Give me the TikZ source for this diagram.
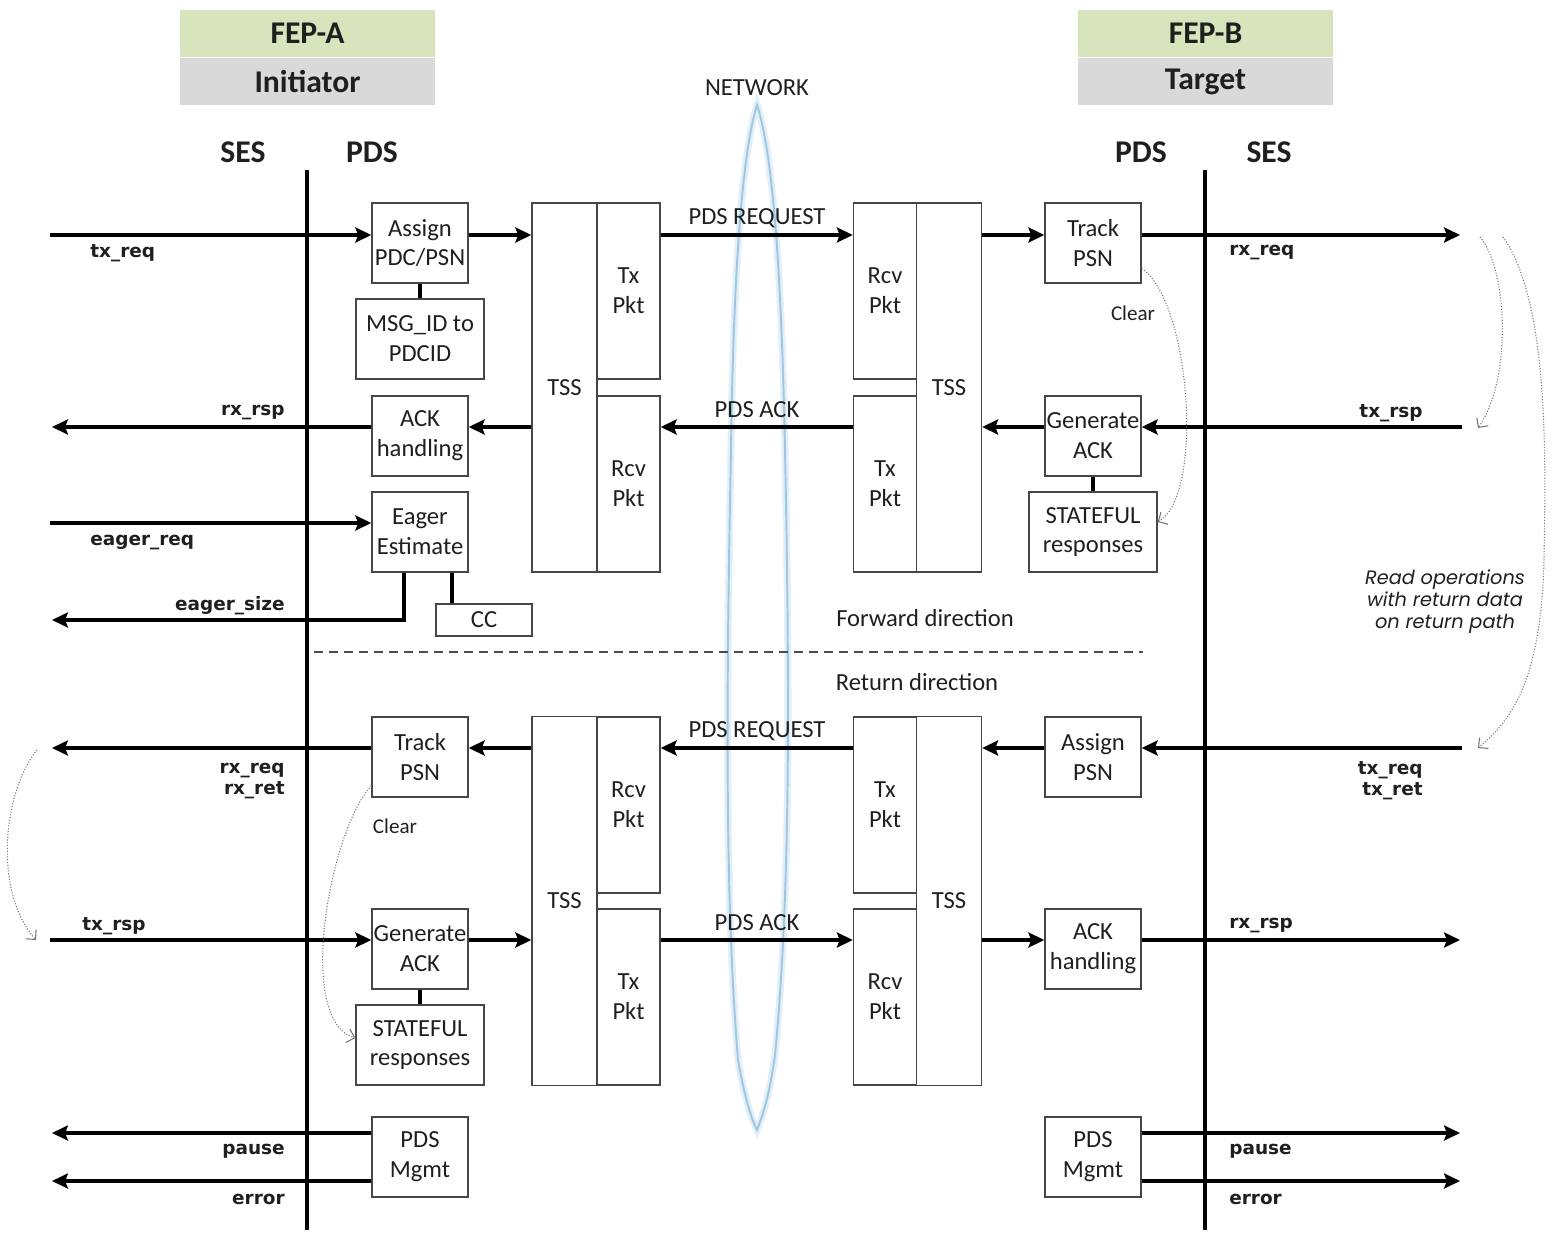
\documentclass[tikz,border=0pt]{standalone}
\usepackage{fontspec}
\usepackage{tikz}
\usetikzlibrary{arrows.meta,positioning}
\setmainfont{Carlito}
\newfontfamily\sigfont{DejaVu Sans}
\newfontfamily\notefont{Poppins}

\definecolor{fepgreen}{RGB}{216,228,188}
\definecolor{fepgray}{RGB}{217,217,217}
\definecolor{netblue}{RGB}{140,190,220}
\definecolor{boxline}{RGB}{70,70,70}

\begin{document}
\begin{tikzpicture}[x=0.02cm, y=-0.02cm,
	every node/.style={text=black!88},
	blk/.style={draw=boxline, line width=0.8pt, minimum width=1.92cm, minimum height=1.6cm,
		inner sep=0pt, align=center, font=\fontsize{14}{17}\selectfont},
	wideblk/.style={blk, minimum width=2.56cm},
	tss/.style={blk, minimum width=1.3cm, minimum height=7.38cm},
	pkt/.style={blk, minimum width=1.26cm, minimum height=3.52cm},
	hdr/.style={minimum width=5.1cm, minimum height=0.95cm, inner sep=0pt,
		font=\fontsize{18}{20}\selectfont\bfseries},
	col/.style={font=\fontsize{18}{20}\selectfont\bfseries},
	sig/.style={line width=1.9pt, -{Stealth[length=9pt,width=8.5pt,inset=1.5pt]}},
	link/.style={line width=1.9pt},
	bus/.style={line width=1.9pt},
	lbl/.style={inner sep=0pt, font=\sigfont\bfseries\fontsize{10.5}{12}\selectfont},
	msg/.style={inner sep=0pt, font=\fontsize{14}{17}\selectfont},
	clr/.style={inner sep=0pt, font=\fontsize{12}{14}\selectfont},
	hint/.style={densely dotted, black!55, line width=0.6pt, -{Straight Barb[length=4pt,width=8pt]}}]

\useasboundingbox (0,0) rectangle (1559,1247);

% headers
\node[hdr, fill=fepgreen] (fepA) at (307.5,33.5) {FEP-A};
\node[hdr, fill=fepgray, below=0pt of fepA] (roleA) {Initiator};
\node[hdr, fill=fepgreen] (fepB) at (1205.5,33.5) {FEP-B};
\node[hdr, fill=fepgray, below=0pt of fepB] (roleB) {Target};

\node[col] (sesA) at (243,152) {SES};
\node[col] (pdsA) at (372,152) {PDS};
\node[col] (pdsB) at (1141,152) {PDS};
\node[col] (sesB) at (1269,152) {SES};

\node[msg] (net) at (757,88) {NETWORK};

% network
\draw[netblue, line width=4pt, opacity=0.25]
	(757,105) .. controls (740,160) and (733,300) .. (731,450)
	.. controls (726,700) and (725,900) .. (738,1060)
	.. controls (745,1100) and (752,1120) .. (757,1130)
	.. controls (765,1110) and (770,1090) .. (775,1055)
	.. controls (790,900) and (790,700) .. (785,450)
	.. controls (782,300) and (775,160) .. (757,105) -- cycle;
\draw[netblue, line width=1.1pt, opacity=0.8]
	(757,105) .. controls (740,160) and (733,300) .. (731,450)
	.. controls (726,700) and (725,900) .. (738,1060)
	.. controls (745,1100) and (752,1120) .. (757,1130)
	.. controls (765,1110) and (770,1090) .. (775,1055)
	.. controls (790,900) and (790,700) .. (785,450)
	.. controls (782,300) and (775,160) .. (757,105) -- cycle;

% layer boundaries
\draw[bus] (307,170) -- (307,1230);
\draw[bus] (1205,170) -- (1205,1230);

% forward direction, initiator
\node[blk] (asgA) at (420,243) {Assign\\PDC/PSN};
\node[wideblk] (mapA) at (420,339) {MSG\_ID to\\PDCID};
\node[blk] (ackA) at (420,436) {ACK\\handling};
\node[blk] (eagA) at (420,532) {Eager\\Estimate};
\node[blk, minimum height=0.64cm] (ccA) at (484,620) {CC};
\node[tss] (tssA) at (564.5,387.5) {TSS};
\node[pkt] (txA) at (628.5,291) {Tx\\Pkt};
\node[pkt] (rxA) at (628.5,484) {Rcv\\Pkt};

% forward direction, target
\node[pkt] (rxB) at (885,291) {Rcv\\Pkt};
\node[pkt] (txB) at (885,484) {Tx\\Pkt};
\node[tss] (tssB) at (949,387.5) {TSS};
\node[blk] (trkB) at (1093,243) {Track\\PSN};
\node[blk] (genB) at (1093,436) {Generate\\ACK};
\node[wideblk] (stB) at (1093,532) {STATEFUL\\responses};

% return direction, initiator
\node[blk] (trkA) at (420,757) {Track\\PSN};
\node[blk] (genA) at (420,949) {Generate\\ACK};
\node[wideblk] (stA) at (420,1045) {STATEFUL\\responses};
\node[blk] (mgA) at (420,1157) {PDS\\Mgmt};
\node[tss] (tssA2) at (564.5,901) {TSS};
\node[pkt] (rxA2) at (628.5,805) {Rcv\\Pkt};
\node[pkt] (txA2) at (628.5,997) {Tx\\Pkt};

% return direction, target
\node[pkt] (txB2) at (885,805) {Tx\\Pkt};
\node[pkt] (rxB2) at (885,997) {Rcv\\Pkt};
\node[tss] (tssB2) at (949,901) {TSS};
\node[blk] (asgB) at (1093,757) {Assign\\PSN};
\node[blk] (ackB) at (1093,949) {ACK\\handling};
\node[blk] (mgB) at (1093,1157) {PDS\\Mgmt};

% free ends
\coordinate (txreqA) at (50,235);
\coordinate (rxreqB) at (1460,235);
\coordinate (rxrspA) at (52,427);
\coordinate (txrspB) at (1462,427);
\coordinate (eagreqA) at (50,523);
\coordinate (eagszA) at (52,620);
\coordinate (rxretA) at (52,748);
\coordinate (txretB) at (1462,748);
\coordinate (txrspA) at (50,940);
\coordinate (rxrspB) at (1460,940);
\coordinate (pauseA) at (52,1133);
\coordinate (errA) at (52,1181);
\coordinate (pauseB) at (1460,1133);
\coordinate (errB) at (1460,1181);

% forward request
\draw[sig] (txreqA) -- (asgA.west |- txreqA);
\draw[sig] (asgA.east |- txreqA) -- (tssA.west |- txreqA);
\draw[sig] (txA.east |- txreqA) -- (rxB.west |- txreqA);
\draw[sig] (tssB.east |- txreqA) -- (trkB.west |- txreqA);
\draw[sig] (trkB.east |- txreqA) -- (rxreqB);

% forward ack
\draw[sig] (txrspB) -- (genB.east |- txrspB);
\draw[sig] (genB.west |- txrspB) -- (tssB.east |- txrspB);
\draw[sig] (txB.west |- txrspB) -- (rxA.east |- txrspB);
\draw[sig] (tssA.west |- txrspB) -- (ackA.east |- txrspB);
\draw[sig] (ackA.west |- txrspB) -- (rxrspA);

% eager
\draw[sig] (eagreqA) -- (eagA.west |- eagreqA);
\draw[sig] ([xshift=-0.32cm]eagA.south) |- (eagszA);
\draw[link] ([xshift=0.64cm]eagA.south) -- ([xshift=0.64cm]eagA.south |- ccA.north);
\draw[link] (asgA) -- (mapA);
\draw[link] (genB) -- (stB);

% return request
\draw[sig] (txretB) -- (asgB.east |- txretB);
\draw[sig] (asgB.west |- txretB) -- (tssB2.east |- txretB);
\draw[sig] (txB2.west |- txretB) -- (rxA2.east |- txretB);
\draw[sig] (tssA2.west |- txretB) -- (trkA.east |- txretB);
\draw[sig] (trkA.west |- txretB) -- (rxretA);

% return ack
\draw[sig] (txrspA) -- (genA.west |- txrspA);
\draw[sig] (genA.east |- txrspA) -- (tssA2.west |- txrspA);
\draw[sig] (txA2.east |- txrspA) -- (rxB2.west |- txrspA);
\draw[sig] (tssB2.east |- txrspA) -- (ackB.west |- txrspA);
\draw[sig] (ackB.east |- txrspA) -- (rxrspB);
\draw[link] (genA) -- (stA);

% management
\draw[sig] (mgA.west |- pauseA) -- (pauseA);
\draw[sig] (mgA.west |- errA) -- (errA);
\draw[sig] (mgB.east |- pauseB) -- (pauseB);
\draw[sig] (mgB.east |- errB) -- (errB);

% signal labels
\node[lbl, anchor=west] (l1) at (90,253) {tx\_req};
\node[lbl, anchor=east] (l2) at (285,413) {rx\_rsp};
\node[lbl, anchor=west] (l3) at (90,543) {eager\_req};
\node[lbl, anchor=east] (l4) at (285,606) {eager\_size};
\node[lbl, anchor=east, align=right] (l5) at (285,781) {rx\_req\\rx\_ret};
\node[lbl, anchor=west] (l6) at (82,926) {tx\_rsp};
\node[lbl, anchor=east] (l7) at (285,1151) {pause};
\node[lbl, anchor=east] (l8) at (285,1199) {error};
\node[lbl, anchor=west] (r1) at (1229,253) {rx\_req};
\node[lbl, anchor=east] (r2) at (1423,413) {tx\_rsp};
\node[lbl, anchor=east, align=right] (r3) at (1423,781) {tx\_req\\tx\_ret};
\node[lbl, anchor=west] (r4) at (1229,926) {rx\_rsp};
\node[lbl, anchor=west] (r5) at (1229,1151) {pause};
\node[lbl, anchor=west] (r6) at (1229,1199) {error};

\node[msg] (m1) at (757,218) {PDS REQUEST};
\node[msg] (m2) at (757,410) {PDS ACK};
\node[msg] (m3) at (757,731) {PDS REQUEST};
\node[msg] (m4) at (757,923) {PDS ACK};

% directions
\draw[black!70, line width=0.7pt, dash pattern=on 0.18cm off 0.12cm] (314,652) -- (1143,652);
\node[msg] (fwd) at (925,618) {Forward direction};
\node[msg] (ret) at (917,682) {Return direction};

% clear hints
\node[clr] (clrB) at (1133,313) {Clear};
\node[clr] (clrA) at (395,826) {Clear};
\draw[hint] ([yshift=0.3cm]trkB.south east) .. controls (1190,300) and (1205,495) .. ([yshift=0.2cm]stB.east);
\draw[hint] ([yshift=0.24cm]trkA.south west) .. controls (330,830) and (295,1020) .. ([yshift=0.14cm]stA.west);

% read operations
\coordinate (rdA) at (1480,237);
\coordinate (rdB) at (1478,428);
\coordinate (rdC) at (1503,237);
\coordinate (rdD) at (1478,748);
\coordinate (lpA) at (37,750);
\coordinate (lpB) at (36,940);
\draw[hint] (rdA) .. controls (1508,270) and (1512,380) .. (rdB);
\draw[hint] (rdC) .. controls (1548,300) and (1546,450) .. (1544,560)
	.. controls (1541,680) and (1512,720) .. (rdD);
\draw[hint] (lpA) .. controls (4,790) and (-8,890) .. (lpB);
\node[align=center, inner sep=0pt, font=\notefont\itshape\fontsize{11}{12.5}\selectfont] (rdnote) at (1445,602)
	{Read operations\\with return data\\on return path};

\end{tikzpicture}
\end{document}
